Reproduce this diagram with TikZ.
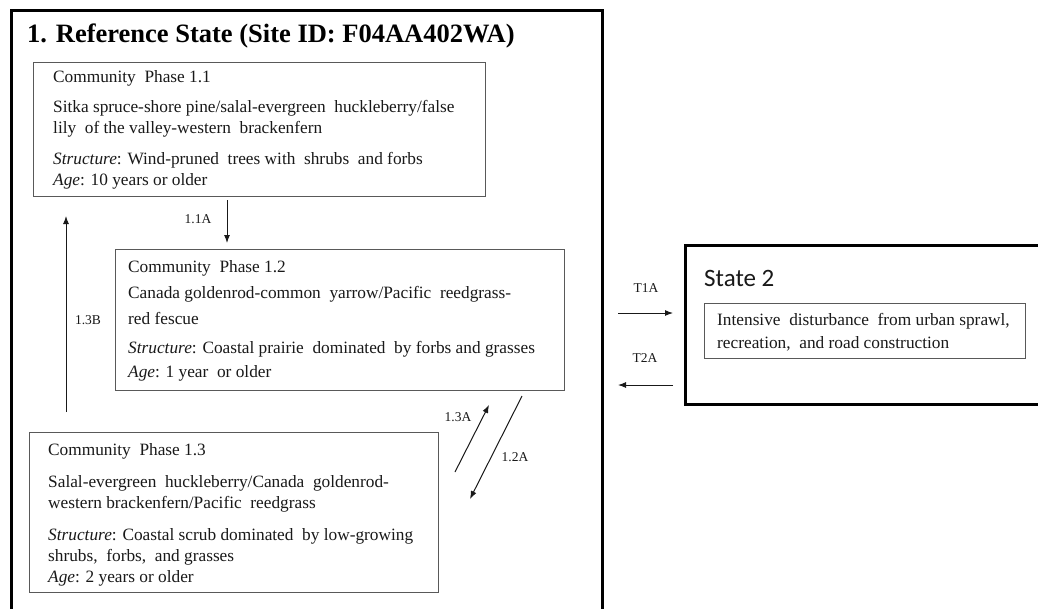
\documentclass[tikz,border=0pt]{standalone}
\usepackage{fontspec}
\setmainfont{Liberation Serif}
\newfontfamily\calibrifont{Carlito}
\usetikzlibrary{arrows.meta}
\begin{document}
\begin{tikzpicture}[x=1pt,y=-1pt,
  outerbox/.style={draw=black, line width=3pt, inner sep=0pt, anchor=north west},
  phasebox/.style={draw=black!65, line width=1.4pt, inner sep=0pt, anchor=north west},
  body/.style={anchor=north west, inner sep=0pt, align=left, font=\fontsize{17.3}{21}\selectfont, text=black!90},
  lbl/.style={font=\fontsize{13.5}{15}\selectfont, inner sep=0pt, text=black!90},
  arr/.style={-{Latex[length=8pt,width=6pt]}, line width=1pt, draw=black!90}
]
\useasboundingbox[fill=white] (0,0) rectangle (1038,608);
% outer state boxes
\node[outerbox, minimum width=591pt, minimum height=620pt] (s1) at (10,9) {};
\node[outerbox, minimum width=380pt, minimum height=159pt] (s2) at (684,244) {};
% titles
\node[anchor=base west, inner sep=0pt, font=\bfseries\fontsize{26.5}{30}\selectfont] (title) at (27,42) {1. Reference State (Site ID: F04AA402WA)};
\node[anchor=base west, inner sep=0pt, font=\calibrifont\fontsize{25}{30}\selectfont, text=black!90] (s2title) at (704,286) {State 2};
% phase boxes
\node[phasebox, minimum width=452pt, minimum height=134pt] (p11) at (33,62) {};
\node[phasebox, minimum width=449pt, minimum height=141pt] (p12) at (115,249) {};
\node[phasebox, minimum width=409pt, minimum height=160pt] (p13) at (29,432) {};
\node[phasebox, minimum width=321pt, minimum height=55pt] (p2) at (704,303) {};
% texts
\node[body] (t11) at (53,70.2) {Community\ \ Phase 1.1\\[9pt]
Sitka spruce-shore pine/salal-evergreen\ \ huckleberry/false\\
lily\ \ of the valley-western\ \ brackenfern\\[10pt]
\textit{Structure}: Wind-pruned\ \ trees with\ \ shrubs\ \ and forbs\\
\textit{Age}: 10 years or older};
\node[body] (t12) at (128,260.2) {Community\ \ Phase 1.2\\[5pt]
Canada goldenrod-common\ \ yarrow/Pacific\ \ reedgrass-\\[5pt]
red fescue\\[8pt]
\textit{Structure}: Coastal prairie\ \ dominated\ \ by forbs and grasses\\[3pt]
\textit{Age}: 1 year\ \ or older};
\node[body] (t13) at (48,443.2) {Community\ \ Phase 1.3\\[11pt]
Salal-evergreen\ \ huckleberry/Canada\ \ goldenrod-\\
western brackenfern/Pacific\ \ reedgrass\\[11pt]
\textit{Structure}: Coastal scrub dominated\ \ by low-growing\\
shrubs,\ \ forbs,\ \ and grasses\\
\textit{Age}: 2 years or older};
\node[body] (t2) at (717,313.2) {Intensive\ \ disturbance\ \ from urban sprawl,\\[2pt]
recreation,\ \ and road construction};
% transition labels
\node[lbl] (l11) at (198,219) {1.1A};
\node[lbl] (l13b) at (88,320) {1.3B};
\node[lbl] (l13a) at (458,417) {1.3A};
\node[lbl] (l12) at (515,457) {1.2A};
\node[lbl] (lt1) at (646,288) {T1A};
\node[lbl] (lt2) at (645,358) {T2A};
% arrow end points
\coordinate (a11s) at (227,200); \coordinate (a11e) at (227,243);
\coordinate (a13bs) at (66,412); \coordinate (a13be) at (66,216);
\coordinate (a13as) at (455,472); \coordinate (a13ae) at (489,405);
\coordinate (a12s) at (522,396); \coordinate (a12e) at (470,499);
\coordinate (at1s) at (618,313); \coordinate (at1e) at (673,313);
\coordinate (at2s) at (673,385); \coordinate (at2e) at (618,385);
\draw[arr] (a11s) -- (a11e);
\draw[arr] (a13bs) -- (a13be);
\draw[arr] (a13as) -- (a13ae);
\draw[arr] (a12s) -- (a12e);
\draw[arr] (at1s) -- (at1e);
\draw[arr] (at2s) -- (at2e);
\end{tikzpicture}
\end{document}
